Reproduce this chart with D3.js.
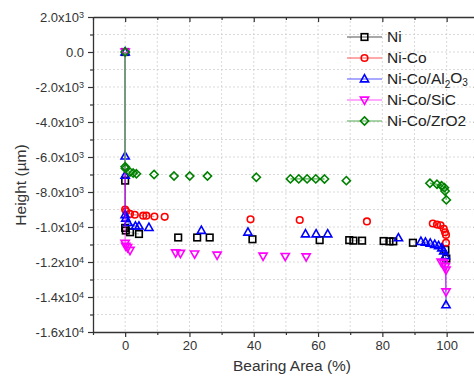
<!DOCTYPE html>
<html>
<head>
<meta charset="utf-8">
<script src="https://cdn.jsdelivr.net/npm/d3@7"></script>
<style>
  body { margin: 0; background: #fff; }
  svg { display: block; font-family: "Liberation Sans", Arial, sans-serif; }
</style>
</head>
<body>
<div id="chart"></div>
<script>
// values: [bearing area %, height um]
const niData = [[0,0],[0,-7350],[0,-10050],[0.2,-10200],[1.5,-10300],[4.3,-10400],[16.5,-10600],[22.4,-10600],[26.3,-10600],[39.6,-10700],[60.5,-10750],[69.7,-10750],[71,-10780],[73.7,-10780],[80.4,-10800],[82.2,-10820],[83.4,-10820],[89.5,-10900],[99.6,-11300],[99.9,-11800]];
const niCoData = [[0,0],[0,-9000],[0.3,-9100],[1.5,-9250],[3,-9300],[5.6,-9350],[6.6,-9350],[9.1,-9400],[12.3,-9420],[39,-9560],[54.3,-9600],[75.2,-9680],[95.7,-9800],[97,-9860],[98.1,-9900],[99.1,-10100],[99.5,-10300],[99.8,-10450],[99.8,-10900]];
const alData = [[0,0],[0,-5950],[0,-7050],[0,-9300],[0.2,-9500],[0.9,-9750],[3.2,-9950],[4.3,-9950],[7.4,-10030],[23.7,-10200],[38.2,-10300],[56.1,-10400],[59.4,-10400],[63,-10400],[85,-10620],[92,-10830],[93.4,-10870],[94.9,-10930],[96.3,-11000],[97.5,-11070],[98.5,-11200],[99.1,-11370],[99.6,-11650],[99.8,-14450]];
const sicData = [[0,0],[0,-10930],[0.2,-11090],[0.75,-11170],[1.5,-11330],[15.7,-11470],[17.2,-11500],[21.6,-11540],[28.6,-11600],[42.9,-11660],[49.8,-11680],[56.3,-11700],[98.3,-12000],[99.1,-12060],[99.6,-12260],[99.8,-12450],[99.8,-13700]];
const zrData = [[0,0],[0,-6550],[0.1,-6650],[1.5,-6860],[2.5,-6920],[3.5,-6960],[9,-7000],[15.2,-7090],[20.1,-7090],[25.6,-7090],[40.8,-7160],[51.4,-7250],[54,-7250],[56.6,-7250],[59.3,-7250],[62,-7260],[68.8,-7350],[94.8,-7500],[97,-7560],[98.4,-7640],[99.3,-7750],[99.5,-7940],[99.9,-8450]];

const xTicks = [0, 20, 40, 60, 80, 100];
const yTicks = [-16000, -14000, -12000, -10000, -8000, -6000, -4000, -2000, 0, 2000];

const series = [
  { name: "Ni", data: niData, color: "#000000", line: "#808080", lineOpacity: 0.4, symbol: "square" },
  { name: "Ni-Co", data: niCoData, color: "#ff0000", line: "#ff0000", lineOpacity: 0.4, symbol: "circle" },
  { name: "Ni-Co/Al2O3", data: alData, color: "#0000ff", line: "#0000ff", lineOpacity: 0.5, symbol: "triangleUp" },
  { name: "Ni-Co/SiC", data: sicData, color: "#ff00ff", line: "#ff00ff", lineOpacity: 0.5, symbol: "triangleDown" },
  { name: "Ni-Co/ZrO2", data: zrData, color: "#008000", line: "#5cb85c", lineOpacity: 1, symbol: "diamond" }
];

const width = 474, height = 376;
const m = { left: 93, right: 478.8, top: 17, bottom: 332 };

const x = d3.scaleLinear().domain([-10, 110]).range([m.left, m.right]);
const y = d3.scaleLinear().domain([-16000, 2000]).range([m.bottom, m.top]);

const svg = d3.select("#chart").append("svg")
  .attr("width", width)
  .attr("height", height);

// dotted grid
svg.append("g").selectAll("line")
  .data(d3.range(0, 110, 10))
  .enter().append("line")
  .attr("x1", d => x(d)).attr("x2", d => x(d))
  .attr("y1", m.top).attr("y2", m.bottom)
  .attr("stroke", "#cfcfcf").attr("stroke-width", 0.8).attr("stroke-dasharray", "2,2");
svg.append("g").selectAll("line")
  .data(d3.range(-15000, 2000, 1000))
  .enter().append("line")
  .attr("x1", m.left).attr("x2", m.right)
  .attr("y1", d => y(d)).attr("y2", d => y(d))
  .attr("stroke", "#cfcfcf").attr("stroke-width", 0.8).attr("stroke-dasharray", "2,2");

function styleAxis(g) {
  g.select(".domain").attr("stroke", "#333").attr("stroke-width", 1.3);
  g.selectAll(".tick line").attr("stroke", "#333").attr("stroke-width", 1.2);
  g.selectAll("text").attr("fill", "#333").attr("font-size", "13px");
}

const xMinor = [-10, 10, 30, 50, 70, 90, 110];
const yMinor = d3.range(-15000, 2000, 2000);

// bottom
svg.append("g").attr("transform", `translate(0,${m.bottom})`)
  .call(d3.axisBottom(x).tickValues(xTicks).tickSize(5).tickSizeOuter(0).tickPadding(4))
  .call(styleAxis);
svg.append("g").attr("transform", `translate(0,${m.bottom})`)
  .call(d3.axisBottom(x).tickValues(xMinor).tickSize(3).tickFormat(""))
  .call(g => g.select(".domain").remove()).call(styleAxis);
// top
svg.append("g").attr("transform", `translate(0,${m.top})`)
  .call(d3.axisTop(x).tickValues(xTicks).tickSize(-5).tickSizeOuter(0).tickFormat(""))
  .call(styleAxis);
svg.append("g").attr("transform", `translate(0,${m.top})`)
  .call(d3.axisTop(x).tickValues(xMinor).tickSize(-3).tickFormat(""))
  .call(g => g.select(".domain").remove()).call(styleAxis);
// left
const yAxis = svg.append("g").attr("transform", `translate(${m.left},0)`)
  .call(d3.axisLeft(y).tickValues(yTicks).tickSize(5).tickSizeOuter(0).tickFormat(""))
  .call(styleAxis);
svg.append("g").attr("transform", `translate(${m.left},0)`)
  .call(d3.axisLeft(y).tickValues(yMinor).tickSize(3).tickFormat(""))
  .call(g => g.select(".domain").remove()).call(styleAxis);
// right
svg.append("g").attr("transform", `translate(${m.right},0)`)
  .call(d3.axisRight(y).tickValues(yTicks).tickSize(-5).tickSizeOuter(0).tickFormat(""))
  .call(styleAxis);
svg.append("g").attr("transform", `translate(${m.right},0)`)
  .call(d3.axisRight(y).tickValues(yMinor).tickSize(-3).tickFormat(""))
  .call(g => g.select(".domain").remove()).call(styleAxis);

// y tick labels like 2.0x10^3
yAxis.selectAll(".tick").each(function (d) {
  const t = d3.select(this).append("text")
    .attr("x", -9).attr("dy", "0.35em")
    .attr("text-anchor", "end").attr("fill", "#333").attr("font-size", "13px");
  if (d === 0) { t.text("0.0"); return; }
  const e = Math.floor(Math.log10(Math.abs(d)));
  const mant = d / Math.pow(10, e);
  t.append("tspan").text(mant.toFixed(1) + "x10");
  t.append("tspan").attr("dy", "-0.5em").attr("font-size", "9px").text(e);
});

// axis titles
svg.append("text")
  .attr("x", 292).attr("y", 371)
  .attr("text-anchor", "middle").attr("font-size", "15.5px").attr("fill", "#333")
  .text("Bearing Area (%)");
svg.append("text")
  .attr("transform", "translate(26,185) rotate(-90)")
  .attr("text-anchor", "middle").attr("font-size", "15.5px").attr("fill", "#333")
  .text("Height (µm)");

function drawSymbol(g, type, cx, cy, color) {
  const s = 3.3;
  let el;
  if (type === "square") {
    el = g.append("rect").attr("x", cx - s).attr("y", cy - s).attr("width", 2 * s).attr("height", 2 * s);
  } else if (type === "circle") {
    el = g.append("circle").attr("cx", cx).attr("cy", cy).attr("r", s);
  } else if (type === "triangleUp") {
    el = g.append("path").attr("d", `M${cx},${cy - 4.3}L${cx + 4.1},${cy + 2.9}L${cx - 4.1},${cy + 2.9}Z`);
  } else if (type === "triangleDown") {
    el = g.append("path").attr("d", `M${cx},${cy + 4.3}L${cx + 4.1},${cy - 2.9}L${cx - 4.1},${cy - 2.9}Z`);
  } else {
    el = g.append("path").attr("d", `M${cx},${cy - 4.1}L${cx + 4.1},${cy}L${cx},${cy + 4.1}L${cx - 4.1},${cy}Z`);
  }
  el.attr("fill", "none").attr("stroke", color).attr("stroke-width", 1.6);
}

// series: line only joins neighbouring points, then open symbols
const plot = svg.append("g");
series.forEach(function (s) {
  const g = plot.append("g");
  const segs = [];
  s.data.forEach(function (p, i) {
    if (i > 0 && Math.abs(p[0] - s.data[i - 1][0]) < 3) segs.push([s.data[i - 1], p]);
  });
  g.selectAll("line").data(segs).enter().append("line")
    .attr("x1", d => x(d[0][0])).attr("y1", d => y(d[0][1]))
    .attr("x2", d => x(d[1][0])).attr("y2", d => y(d[1][1]))
    .attr("stroke", s.line).attr("stroke-opacity", s.lineOpacity)
    .attr("stroke-width", 1.4);
  s.data.forEach(p => drawSymbol(g, s.symbol, x(p[0]), y(p[1]), s.color));
});

// legend
const legend = svg.append("g");
series.forEach(function (s, i) {
  const ly = 37 + i * 21;
  legend.append("line")
    .attr("x1", 347).attr("x2", 382).attr("y1", ly).attr("y2", ly)
    .attr("stroke", s.color).attr("stroke-opacity", 0.45).attr("stroke-width", 1.4);
  drawSymbol(legend, s.symbol, 364.5, ly, s.color);
  const t = legend.append("text")
    .attr("x", 387).attr("y", ly).attr("dy", "0.35em")
    .attr("font-size", "15.5px").attr("fill", "#222");
  if (s.name === "Ni-Co/Al2O3") {
    t.append("tspan").text("Ni-Co/Al");
    t.append("tspan").attr("font-size", "10px").attr("dy", "0.35em").text("2");
    t.append("tspan").attr("dy", "-0.35em").text("O");
    t.append("tspan").attr("font-size", "10px").attr("dy", "0.35em").text("3");
  } else {
    t.text(s.name);
  }
});
</script>
</body>
</html>
